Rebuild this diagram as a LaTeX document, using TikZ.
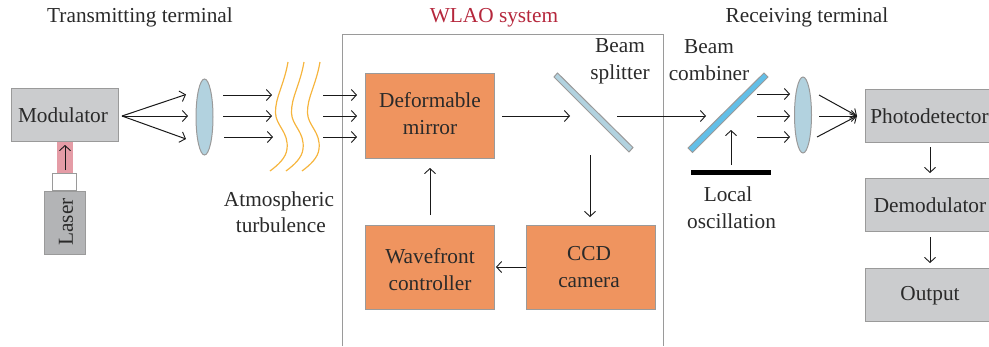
\documentclass[tikz,border=0pt]{standalone}
\usepackage{fontspec}
\setmainfont{Liberation Serif}
\usetikzlibrary{arrows.meta,shapes.geometric}
\definecolor{grayfill}{HTML}{CBCCCE}
\definecolor{grayedge}{HTML}{9A9A9A}
\definecolor{laserfill}{HTML}{B3B4B6}
\definecolor{orangefill}{HTML}{EF945F}
\definecolor{lensfill}{HTML}{B2D2DF}
\definecolor{redbeam}{HTML}{E59CA6}
\definecolor{wave}{HTML}{F6B53E}
\definecolor{combfill}{HTML}{62BFE8}
\definecolor{titlered}{HTML}{B5273C}
\definecolor{txt}{HTML}{2A2A2A}
\begin{document}
\begin{tikzpicture}[x=1pt,y=-1pt,
  every node/.style={text=txt,font=\fontsize{21.3}{25}\selectfont,inner sep=0pt,align=center},
  greybox/.style={draw=grayedge,fill=grayfill,line width=1.2pt,rectangle,anchor=north west},
  orangebox/.style={draw=grayedge,fill=orangefill,line width=1pt,rectangle,anchor=north west},
  lens/.style={draw=grayedge,fill=lensfill,line width=1pt,ellipse,minimum width=17pt,minimum height=76pt},
  beam/.style={-{Straight Barb[length=5pt,width=11pt,line width=0.9pt]},line width=1pt,black!90},
  wavy/.style={draw=wave,line width=1.2pt},
  mirror/.style={draw=grayedge,line width=1pt}]
\useasboundingbox (0,0) rectangle (989,346);
% WLAO frame
\coordinate (wa) at (342,346); \coordinate (wb) at (342,34);
\coordinate (wc) at (663,34); \coordinate (wd) at (663,346);
\draw[draw=grayedge,line width=1pt] (wa) -- (wb) -- (wc) -- (wd);
% titles
\node (t1) at (140,17) {Transmitting terminal};
\node[text=titlered] (t2) at (494,18) {WLAO system};
\node (t3) at (807,17) {Receiving terminal};
% left side
\fill[redbeam] (57,142) rectangle (73,173);
\node[draw=grayedge,fill=white,line width=1pt,minimum width=24pt,minimum height=17pt,anchor=north west] (collim) at (52,173) {};
\node[draw=grayedge,fill=laserfill,line width=1.2pt,minimum width=41pt,minimum height=63pt,anchor=north west] (laser) at (44,190.5) {};
\node[rotate=90] (lasertxt) at (66,222) {Laser};
\node[greybox,minimum width=107pt,minimum height=53pt] (mod) at (11,88) {};
\node (modtxt) at (63,115.5) {Modulator};
\coordinate (la) at (65,170); \coordinate (lb) at (65,145);
\draw[beam] (la) -- (lb);
\node[lens] (lens1) at (204.5,117) {};
\coordinate (m0) at (122,116);
\coordinate (m1) at (186,94.5); \coordinate (m2) at (188,116); \coordinate (m3) at (186,139);
\draw[beam] (m0) -- (m1);
\draw[beam] (m0) -- (m2);
\draw[beam] (m0) -- (m3);
\foreach \n/\xa/\xb/\yy in {a/223/272/95,b/223/272/116,c/224/273/137,d/323/357/95,e/323/357/116,f/323/357/137}{
  \coordinate (p\n) at (\xa,\yy); \coordinate (q\n) at (\xb,\yy);
  \draw[beam] (p\n) -- (q\n);
}
\foreach \d in {0,16,32}{
  \draw[wavy] (288+\d,62) .. controls (284+\d,85) and (275+\d,98) .. (275.5+\d,113)
    .. controls (276+\d,126) and (289+\d,132) .. (287+\d,149)
    .. controls (286+\d,158) and (278+\d,165) .. (270+\d,171);
}
\node (atm) at (279,212) {Atmospheric\\[1pt]\,turbulence};
% AO boxes
\node[orangebox,minimum width=129pt,minimum height=85pt] (dm) at (364.5,72.5) {};
\node (dmt) at (430,114) {Deformable\\[2pt]mirror};
\node[orangebox,minimum width=129pt,minimum height=84pt] (wf) at (364.5,224.5) {};
\node (wft) at (430,269.5) {Wavefront\\[2pt]controller};
\node[orangebox,minimum width=129pt,minimum height=84pt] (ccd) at (525.5,224.5) {};
\node (ccdt) at (589,267.5) {CCD\\[2pt]camera};
% splitter
\filldraw[mirror,fill=lensfill] (554,77) -- (557.5,73) -- (633,147.5) -- (629,152) -- cycle;
\node (bs) at (620,61.5) {Beam\\[2pt]splitter};
\coordinate (ba) at (502,116); \coordinate (bb) at (570,116);
\coordinate (bc) at (617,116); \coordinate (bd) at (706,116);
\coordinate (be) at (590,155); \coordinate (bf) at (590,217);
\draw[beam] (ba) -- (bb);
\draw[beam] (bc) -- (bd);
\draw[beam] (be) -- (bf);
\coordinate (ca) at (526,267); \coordinate (cb) at (496,267);
\draw[beam] (ca) -- (cb);
\coordinate (wa2) at (430,215); \coordinate (wb2) at (430,168);
\draw[beam] (wa2) -- (wb2);
% combiner
\filldraw[mirror,fill=combfill] (688,148) -- (692.5,152.5) -- (768,77) -- (764,73) -- cycle;
\node (bcm) at (709,60) {Beam\\[2pt]combiner};
\node[fill=black,minimum width=80pt,minimum height=5pt] (bar) at (731,172.5) {};
\coordinate (lo) at (731,165); \coordinate (lp) at (731,130);
\draw[beam] (lo) -- (lp);
\node (lot) at (728,208) {Local\\[2pt]\,\,oscillation};
\node[lens] (lens2) at (803,115) {};
\foreach \n/\yy in {g/94,h/116,i/137}{
  \coordinate (r\n) at (757,\yy); \coordinate (s\n) at (790,\yy);
  \draw[beam] (r\n) -- (s\n);
}
\coordinate (cv) at (857,116);
\coordinate (c1) at (819,95); \coordinate (c2) at (819,116); \coordinate (c3) at (817,137);
\draw[beam] (c1) -- (cv);
\draw[beam] (c2) -- (cv);
\draw[beam] (c3) -- (cv);
% right boxes
\node[greybox,minimum width=126pt,minimum height=53pt] (pd) at (865,88.5) {};
\node (pdt) at (929.5,116) {Photodetector};
\node[greybox,minimum width=126pt,minimum height=53pt] (dem) at (865,178) {};
\node (demt) at (930,205.5) {Demodulator};
\node[greybox,minimum width=126pt,minimum height=53pt] (out) at (865,267.5) {};
\node (outt) at (930,296) {Output};
\coordinate (da) at (930,147); \coordinate (db) at (930,173);
\coordinate (dc) at (930,237); \coordinate (dd) at (930,263);
\draw[beam] (da) -- (db);
\draw[beam] (dc) -- (dd);
\end{tikzpicture}
\end{document}
